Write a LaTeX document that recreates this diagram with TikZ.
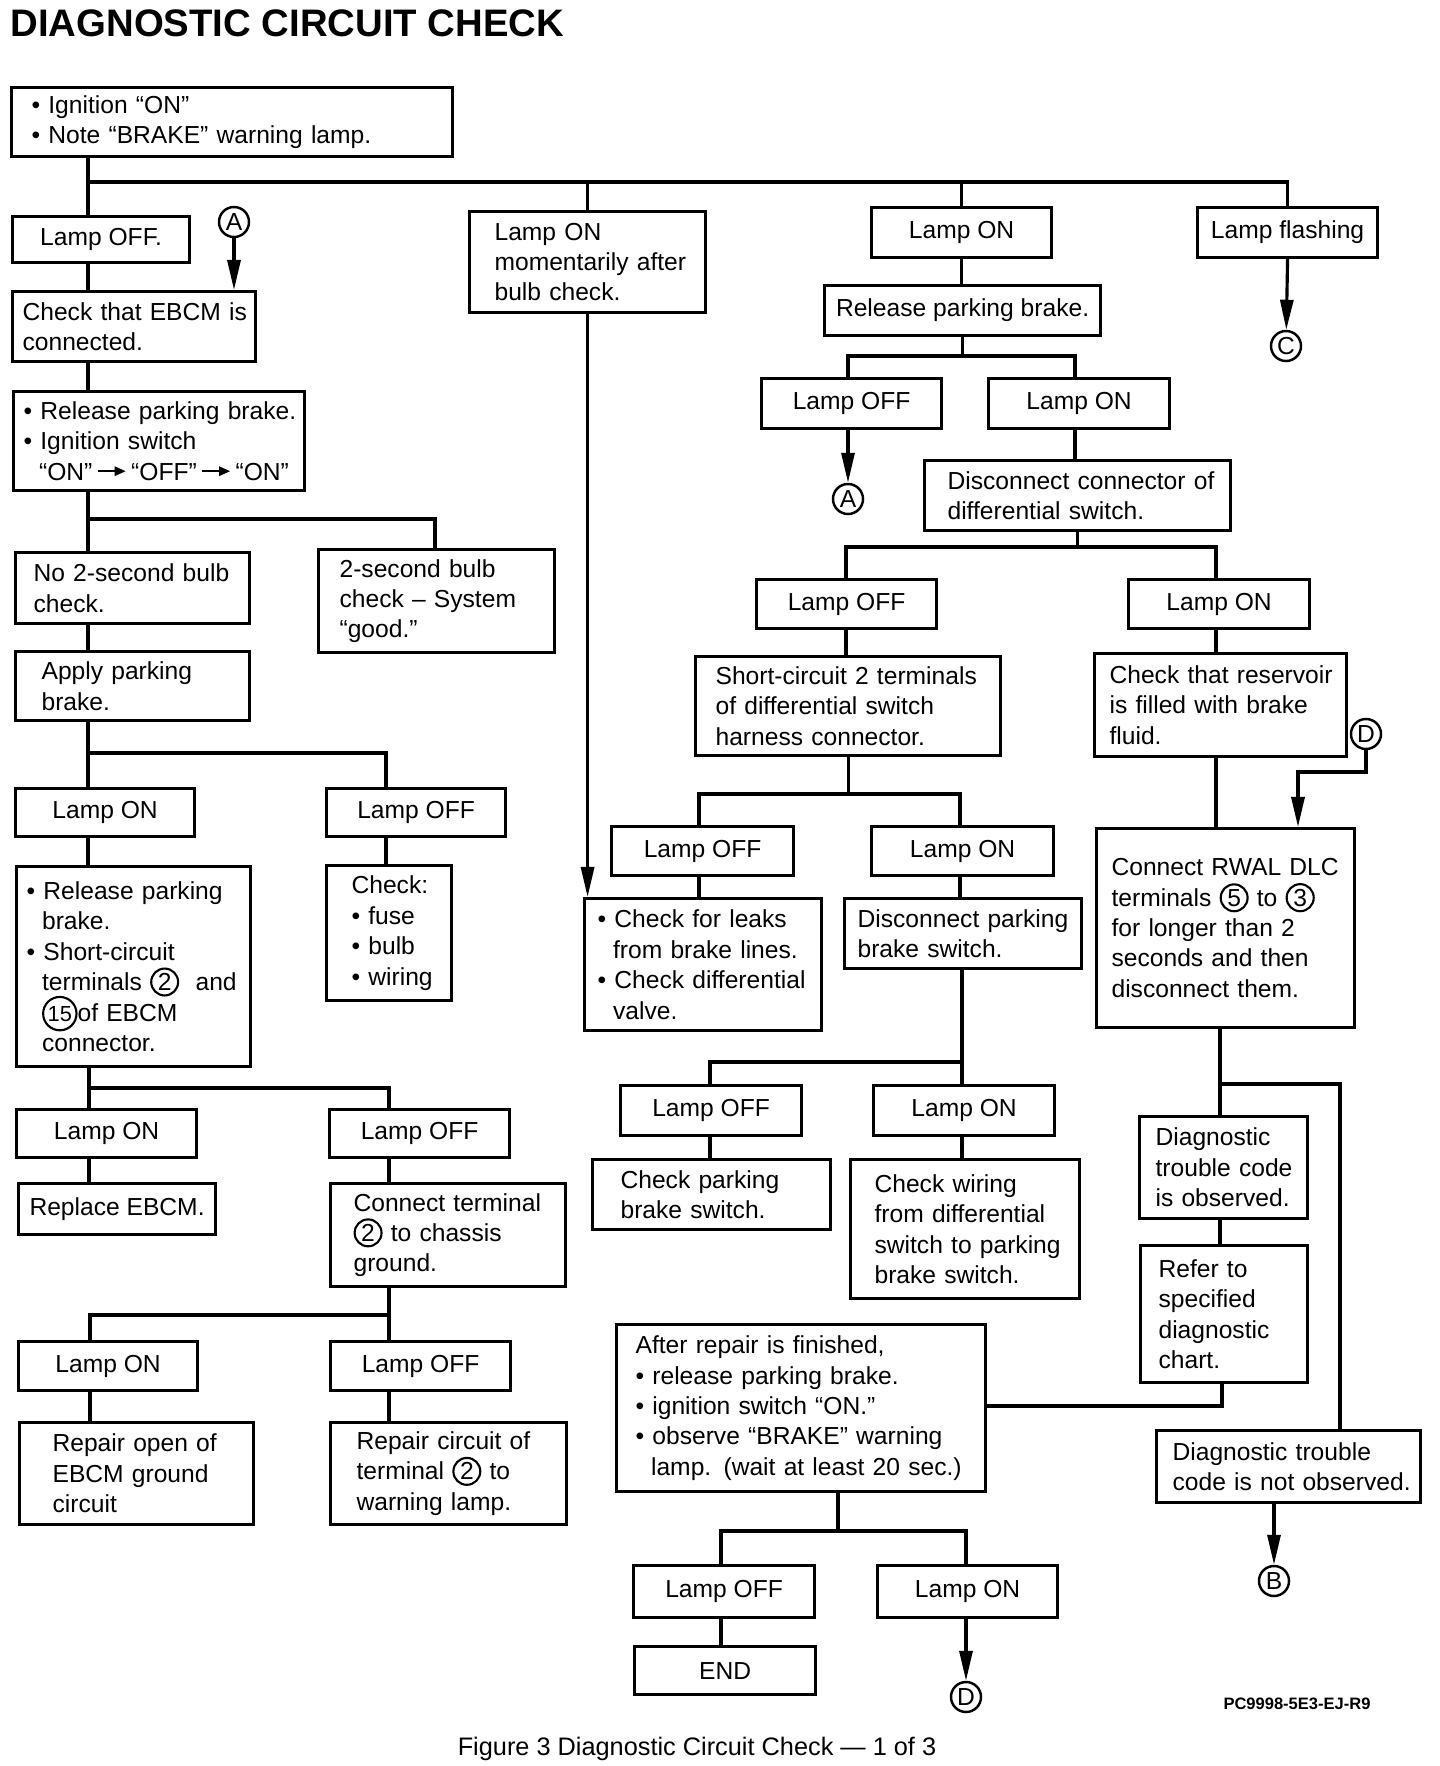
\documentclass[tikz,border=0pt]{standalone}
\usepackage{fontspec}
\setmainfont{Liberation Sans}
\usetikzlibrary{arrows.meta}

\newdimen\pxu \pxu=0.01cm
\newcommand{\ind}{\hspace*{0.63em}}
\newcommand{\cnum}[1]{\smash{\tikz[baseline=(cn.base)]\node[circle, draw, line width=0.6pt, inner sep=0.5pt, minimum size=0pt, text width={}, anchor=center, execute at begin node={}, font=\fontsize{7}{8}\selectfont] (cn) {#1};}}
\newcommand{\sarr}{\,\tikz[baseline=-0.7ex]\draw[line width=0.7pt, -{Triangle[length=3.2pt, width=2.6pt]}] (0pt,0pt) -- (8pt,0pt);\,}

\tikzset{
  box/.style={draw, line width=0.9pt, anchor=north west, font=\fontsize{7}{8.65}\selectfont},
  lbox/.style args={#1/#2/#3}{box, align=left, inner xsep=0pt, inner ysep=0pt,
    text width=#1\pxu, minimum height=#2\pxu, execute at begin node={\leftskip=#3\pxu\relax}},
  cbox/.style args={#1/#2}{box, align=center, inner sep=0pt, minimum width=#1\pxu, minimum height=#2\pxu},
  conn/.style={circle, draw, line width=0.7pt, minimum size=0.3cm, inner sep=0pt, font=\fontsize{7}{8}\selectfont},
  arr/.style={-{Triangle[length=0.3cm, width=0.13cm]}},
}

\begin{document}
\begin{tikzpicture}[x=0.01cm, y=-0.01cm, line width=0.9pt]
\useasboundingbox (0,0) rectangle (1440,1766);

\node[anchor=base west, inner sep=0pt, font=\bfseries\fontsize{10.9}{13}\selectfont] (title) at (9,36) {DIAGNOSTIC CIRCUIT CHECK};

\node[lbox=441/69/20] (top) at (10,86) {• Ignition “ON”\\• Note “BRAKE” warning lamp.};

% left column
\node[cbox=177/46] (loff1) at (11,215) {Lamp OFF.};
\node[conn] (cA1) at (234,222) {A};
\node[lbox=243/70/10] (ebcm) at (11,290) {Check that EBCM is\\connected.};
\node[lbox=291/99/10] (rel1) at (12,390) {• Release parking brake.\\• Ignition switch\\\ind “ON”\sarr“OFF”\sarr“ON”};
\node[lbox=234/71/18] (no2s) at (14,551) {No 2-second bulb\\check.};
\node[lbox=236/103/21] (good) at (317,548) {2-second bulb\\check – System\\“good.”};
\node[lbox=234/69/26] (apply) at (14,650) {Apply parking\\brake.};
\node[cbox=179/48] (lon2) at (14,787) {Lamp ON};
\node[cbox=179/48] (loff2) at (325,787) {Lamp OFF};
\node[lbox=234/200/10] (short1) at (15,865) {• Release parking\\\ind brake.\\• Short-circuit\\\ind terminals \cnum{2}\ \ and\\\ind\cnum{\fontsize{6.2}{7}\selectfont 15}of EBCM\\\ind connector.};
\node[lbox=125/135/25] (fuse) at (325,864) {Check:\\• fuse\\• bulb\\• wiring};
\node[cbox=180/48] (lon3) at (15,1108) {Lamp ON};
\node[cbox=180/48] (loff3) at (328,1108) {Lamp OFF};
\node[cbox=197/51] (repl) at (17,1182) {Replace EBCM.};
\node[lbox=235/103/23] (conn2) at (329,1182) {Connect terminal\\\cnum{2} to chassis\\ground.};
\node[cbox=179/49] (lon4) at (17,1340) {Lamp ON};
\node[cbox=180/49] (loff4) at (329,1340) {Lamp OFF};
\node[lbox=234/102/33] (ropen) at (18,1421) {Repair open of\\EBCM ground\\circuit};
\node[lbox=236/102/26] (rcirc) at (329,1421) {Repair circuit of\\terminal \cnum{2} to\\warning lamp.};

% middle and right columns
\node[lbox=236/101/25] (mom) at (468,210) {Lamp ON\\momentarily after\\bulb check.};
\node[cbox=180/50] (lon1) at (870,206) {Lamp ON};
\node[cbox=180/50] (flash) at (1196,206) {Lamp flashing};
\node[cbox=276/50] (rel2) at (823,284) {Release parking brake.};
\node[cbox=180/50] (loff5) at (760,377) {Lamp OFF};
\node[cbox=181/50] (lon5) at (987,377) {Lamp ON};
\node[conn] (cA2) at (848,499) {A};
\node[conn] (cC) at (1286,346) {C};
\node[lbox=306/70/23] (disc) at (923,459) {Disconnect connector of\\differential switch.};
\node[cbox=180/49] (loff6) at (755,578) {Lamp OFF};
\node[cbox=181/49] (lon6) at (1127,578) {Lamp ON};
\node[lbox=305/99/20] (sc2) at (694,655) {Short-circuit 2 terminals\\of differential switch\\harness connector.};
\node[lbox=252/103/15] (resv) at (1093,652) {Check that reservoir\\is filled with brake\\fluid.};
\node[cbox=182/49] (loff7) at (610,825) {Lamp OFF};
\node[cbox=182/49] (lon7) at (870,825) {Lamp ON};
\node[lbox=237/132/13] (leaks) at (583,897) {• Check for leaks\\\ind from brake lines.\\• Check differential\\\ind valve.};
\node[lbox=237/70/13] (discp) at (843,897) {Disconnect parking\\brake switch.};
\node[cbox=181/50] (loff8) at (619,1084) {Lamp OFF};
\node[cbox=181/50] (lon8) at (872,1084) {Lamp ON};
\node[lbox=238/70/28] (chkp) at (591,1158) {Check parking\\brake switch.};
\node[lbox=229/139/24] (wiring) at (849,1158) {Check wiring\\from differential\\switch to parking\\brake switch.};
\node[conn] (cD1) at (1366,734) {D};
\node[lbox=258/199/15] (rwal) at (1095,827) {Connect RWAL DLC\\terminals \cnum{5} to \cnum{3}\\for longer than 2\\seconds and then\\disconnect them.};
\node[lbox=168/102/16] (dtc) at (1138,1115) {Diagnostic\\trouble code\\is observed.};
\node[lbox=167/137/18] (refer) at (1139,1244) {Refer to\\specified\\diagnostic\\chart.};
\node[lbox=264/72/16] (notobs) at (1155,1429) {Diagnostic trouble\\code is not observed.};
\node[conn] (cB) at (1274,1581) {B};
\node[lbox=369/167/19] (after) at (615,1323) {After repair is finished,\\• release parking brake.\\• ignition switch “ON.”\\• observe “BRAKE” warning\\\ind lamp. (wait at least 20 sec.)};
\node[cbox=181/52] (loff9) at (632,1564) {Lamp OFF};
\node[cbox=180/52] (lon9) at (876,1564) {Lamp ON};
\node[cbox=181/48] (endb) at (633,1645) {END};
\node[conn] (cD2) at (966,1697) {D};

\node[anchor=base, inner sep=0pt, font=\bfseries\fontsize{4.7}{6}\selectfont] (code) at (1297,1709) {PC9998-5E3-EJ-R9};
\node[anchor=base, inner sep=0pt, font=\fontsize{7.2}{9}\selectfont] (cap) at (697,1755) {Figure 3 Diagnostic Circuit Check — 1 of 3};

% junctions
\coordinate (t0) at (88,182);
\coordinate (b1) at (88,519);   \coordinate (b1r) at (435,519);
\coordinate (b2) at (88,753);   \coordinate (b2r) at (386,753);
\coordinate (b3) at (89,1088);  \coordinate (b3r) at (389,1088);
\coordinate (b4) at (90,1315);  \coordinate (b4r) at (389,1315);
\coordinate (b5) at (848,356);  \coordinate (b5r) at (1075,356);
\coordinate (b6) at (846,547);  \coordinate (b6r) at (1216,547);
\coordinate (b7) at (699,794);  \coordinate (b7r) at (960,794);
\coordinate (b8) at (710,1062); \coordinate (b8r) at (962,1062);
\coordinate (b9) at (1220,1084); \coordinate (b9r) at (1340,1084);
\coordinate (b10) at (1222,1406);
\coordinate (b11) at (721,1531); \coordinate (b11c) at (838,1531); \coordinate (b11r) at (966,1531);
\coordinate (d0) at (1366,772); \coordinate (d1) at (1298,772);

\draw (top.south -| t0) -- (t0) -- (t0 -| flash.north) -- (flash.north);
\draw (t0) -- (loff1.north -| t0);
\draw (t0 -| mom.north) -- (mom.north);
\draw (t0 -| lon1.north) -- (lon1.north);

\draw (loff1.south -| t0) -- (ebcm.north -| t0);
\draw[arr] (cA1) -- (ebcm.north -| cA1);
\draw (ebcm.south -| t0) -- (rel1.north -| t0);
\draw (rel1.south -| b1) -- (b1) -- (b1r) -- (good.north -| b1r);
\draw (b1) -- (no2s.north -| b1);
\draw (no2s.south -| b1) -- (apply.north -| b1);
\draw (apply.south -| b2) -- (b2) -- (b2r) -- (loff2.north -| b2r);
\draw (b2) -- (lon2.north -| b2);
\draw (lon2.south -| b2) -- (short1.north -| b2);
\draw (loff2.south -| b2r) -- (fuse.north -| b2r);
\draw (short1.south -| b3) -- (b3) -- (b3r) -- (loff3.north -| b3r);
\draw (b3) -- (lon3.north -| b3);
\draw (lon3.south -| b3) -- (repl.north -| b3);
\draw (loff3.south -| b3r) -- (conn2.north -| b3r);
\draw (conn2.south -| b4r) -- (b4r) -- (b4) -- (lon4.north -| b4);
\draw (b4r) -- (loff4.north -| b4r);
\draw (lon4.south -| b4) -- (ropen.north -| b4);
\draw (loff4.south -| b4r) -- (rcirc.north -| b4r);

\draw[arr] (mom.south) -- (leaks.north -| mom.south);
\draw (lon1.south) -- (lon1.south |- rel2.north);
\draw (rel2.south) -- (rel2.south |- b5);
\draw (loff5.north -| b5) -- (b5) -- (b5r) -- (lon5.north -| b5r);
\draw[arr] (loff5.south -| b5) -- (cA2);
\draw (lon5.south -| b5r) -- (disc.north -| b5r);
\draw (disc.south) -- (disc.south |- b6);
\draw (loff6.north -| b6) -- (b6) -- (b6r) -- (lon6.north -| b6r);
\draw (loff6.south -| b6) -- (sc2.north -| b6);
\draw (lon6.south -| b6r) -- (resv.north -| b6r);
\draw (sc2.south) -- (sc2.south |- b7);
\draw (loff7.north -| b7) -- (b7) -- (b7r) -- (lon7.north -| b7r);
\draw (loff7.south -| b7) -- (leaks.north -| b7);
\draw (lon7.south -| b7r) -- (discp.north -| b7r);
\draw (discp.south -| b8r) -- (lon8.north -| b8r);
\draw (b8r) -- (b8) -- (loff8.north -| b8);
\draw (loff8.south -| b8) -- (chkp.north -| b8);
\draw (lon8.south -| b8r) -- (wiring.north -| b8r);

\draw[arr] (flash.south) -- (cC);
\draw (resv.south -| b6r) -- (rwal.north -| b6r);
\draw[arr] (cD1.south) -- (d0) -- (d1) -- (rwal.north -| d1);
\draw (rwal.south -| b9) -- (dtc.north -| b9);
\draw (b9) -- (b9r) -- (notobs.north -| b9r);
\draw (dtc.south -| b9) -- (refer.north -| b9);
\draw (refer.south -| b10) -- (b10) -- (after.east |- b10);
\draw[arr] (notobs.south -| cB) -- (cB);
\draw (after.south -| b11c) -- (b11c);
\draw (loff9.north -| b11) -- (b11) -- (b11r) -- (lon9.north -| b11r);
\draw (loff9.south -| b11) -- (endb.north -| b11);
\draw[arr] (lon9.south -| b11r) -- (cD2);

\end{tikzpicture}
\end{document}
